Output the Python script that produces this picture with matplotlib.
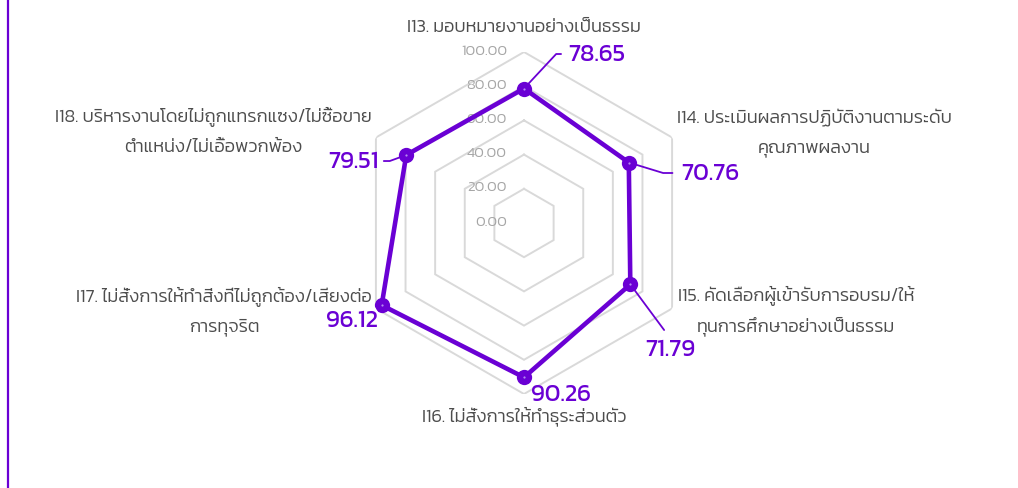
import numpy as np
import matplotlib
matplotlib.use("Agg")
import matplotlib.pyplot as plt
from matplotlib import font_manager
from matplotlib.lines import Line2D

# ---------------- data ----------------
categories = [
    "I13. มอบหมายงานอย่างเป็นธรรม",
    "I14. ประเมินผลการปฏิบัติงานตามระดับ\nคุณภาพผลงาน",
    "I15. คัดเลือกผู้เข้ารับการอบรม/ให้\nทุนการศึกษาอย่างเป็นธรรม",
    "I16. ไม่สั่งการให้ทำธุระส่วนตัว",
    "I17. ไม่สั่งการให้ทำสิ่งที่ไม่ถูกต้อง/เสียงต่อ\nการทุจริต",
    "I18. บริหารงานโดยไม่ถูกแทรกแซง/ไม่ซื้อขาย\nตำแหน่ง/ไม่เอื้อพวกพ้อง",
]
values = [78.65, 70.76, 71.79, 90.26, 96.12, 79.51]
ticks = [0, 20, 40, 60, 80, 100]
tick_labels = ["0.00", "20.00", "40.00", "60.00", "80.00", "100.00"]

# ---------------- style ----------------
PURPLE = "#6a00d4"
GRID = "#d9d9d9"
TICKC = "#a6a6a6"
LABELC = "#4d4d4d"

names = {f.name for f in font_manager.fontManager.ttflist}
thai = next((n for n in ["Kanit", "Prompt", "Mitr", "Athiti", "Sarabun"] if n in names), "DejaVu Sans")
plt.rcParams["font.family"] = [thai, "DejaVu Sans"]

W, H = 1018, 489
fig = plt.figure(figsize=(W / 100, H / 100), dpi=100)
fig.patch.set_facecolor("white")

cx, cy, R = 524, 224, 171
ax = fig.add_axes([(cx - R) / W, (H - cy - R) / H, 2 * R / W, 2 * R / H], projection="polar")
ax.set_theta_offset(np.pi / 2)
ax.set_theta_direction(-1)
ax.set_ylim(0, 100)
ax.axis("off")

n = len(categories)
angles = np.arange(n) * 2 * np.pi / n
ang_c = np.append(angles, angles[0])

# hexagonal grid
for t in ticks[1:]:
    ax.plot(ang_c, [t] * (n + 1), color=GRID, lw=1.4, zorder=1, solid_joinstyle="miter")

# radial tick labels
for t, lab in zip(ticks, tick_labels):
    ax.annotate(lab, xy=(0, t), xytext=(-17, 2), textcoords="offset pixels",
                ha="right", va="center", fontsize=10.8, color=TICKC,
                fontweight=300, zorder=1.5)

# data polygon
vals_c = np.append(values, values[0])
ax.plot(ang_c, vals_c, color=PURPLE, lw=3.3, zorder=4, solid_joinstyle="round")
ax.plot(angles, values, ls="none", marker="o", ms=11, mfc=PURPLE, mec=PURPLE,
        mew=0, zorder=5)
ax.plot(angles, values, ls="none", marker="o", ms=1.6, mfc="#b48cf0", mec="none",
        zorder=6)

# value labels (offset px, ha, relpos, connection)
vstyle = [
    dict(off=(44, 34.5), ha="left", rel=(0, 0.5), conn="angle,angleA=0,angleB=47,rad=0", sh=3),
    dict(off=(52, -10.5), ha="left", rel=(0, 0.5), conn="angle,angleA=0,angleB=-17,rad=0", sh=4),
    dict(off=(40, -65), ha="center", rel=(0.5, 1), conn="arc3", sh=5),
    dict(off=(37, -17), ha="center", rel=None, conn=None, sh=0),
    dict(off=(-30, -15), ha="center", rel=None, conn=None, sh=0),
    dict(off=(-28, -6), ha="right", rel=(1, 0.5), conn="angle,angleA=0,angleB=20,rad=0", sh=2),
]
for a, v, st in zip(angles, values, vstyle):
    kw = {}
    if st["conn"]:
        kw["arrowprops"] = dict(arrowstyle="-", color=PURPLE, lw=1.3,
                                connectionstyle=st["conn"], relpos=st["rel"],
                                shrinkA=st["sh"], shrinkB=0)
    ax.annotate(f"{v:.2f}", xy=(a, v), xytext=st["off"], textcoords="offset pixels",
                ha=st["ha"], va="center", fontsize=17.5, color=PURPLE,
                fontweight=400, zorder=3, **kw)

# category labels: (dx, dy baseline offset px from outer vertex, ha)
lstyle = [
    (0, 21, "center"),
    (5, 16, "left"),
    (6, 8, "left"),
    (0, -26.5, "center"),
    (-4, 8, "right"),
    (-4, 16.5, "right"),
]
LINE = 30
FS = 13.2
renderer = fig.canvas.get_renderer()
for a, cat, (dx, dy, ha) in zip(angles, categories, lstyle):
    lines = cat.split("\n")
    t1 = ax.annotate(lines[0], xy=(a, 100), xytext=(dx, dy), textcoords="offset pixels",
                     ha=ha, va="baseline", fontsize=FS, color=LABELC, fontweight=300)
    if len(lines) > 1:
        bb = t1.get_window_extent(renderer)
        vx = ax.transData.transform((a, 100))[0]
        mid = (bb.x0 + bb.x1) / 2 - vx
        for k, ln in enumerate(lines[1:], start=1):
            ax.annotate(ln, xy=(a, 100), xytext=(mid, dy - LINE * k), textcoords="offset pixels",
                        ha="center", va="baseline", fontsize=FS, color=LABELC, fontweight=300)

# left accent line
fig.add_artist(Line2D([7.5 / W, 7.5 / W], [0, 1], transform=fig.transFigure,
                      color=PURPLE, lw=1.6))

fig.savefig("out.png", dpi=100, facecolor="white")
